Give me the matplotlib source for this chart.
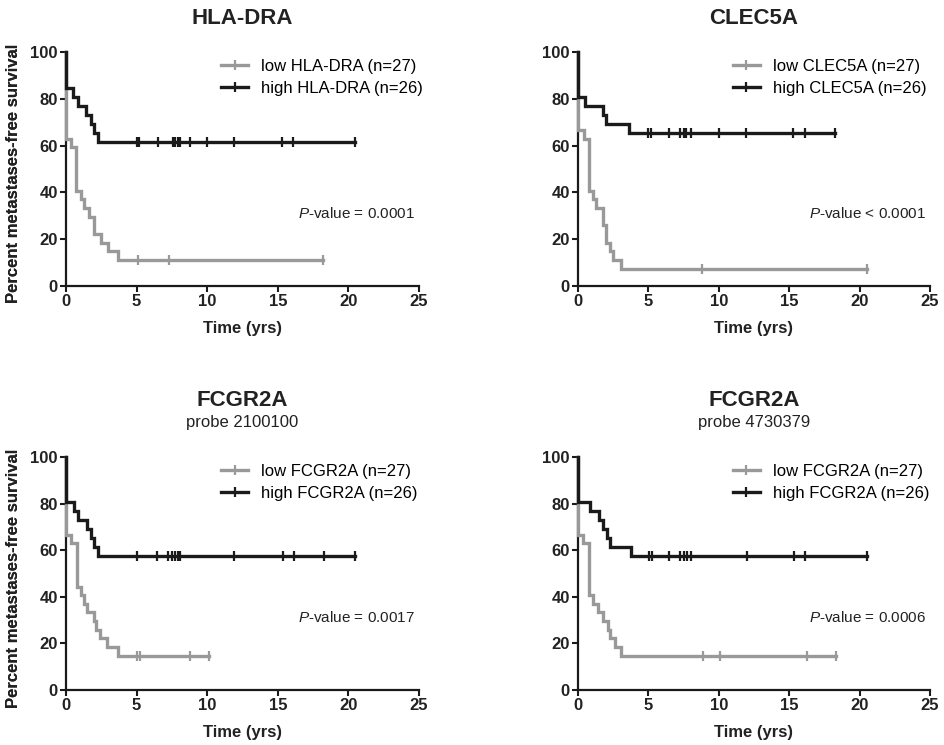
import numpy as np
import matplotlib.pyplot as plt
from matplotlib.lines import Line2D

plt.rcParams['font.family'] = ['Liberation Sans', 'DejaVu Sans']
plt.rcParams['mathtext.fontset'] = 'custom'
plt.rcParams['mathtext.rm'] = 'Liberation Sans'
plt.rcParams['mathtext.it'] = 'Liberation Sans:italic'

# --- HLA-DRA ---
hla_low_t = [0, 0.35, 0.7, 1.05, 1.25, 1.6, 2.0, 2.45, 3.0, 3.65]
hla_low_s = [63.0, 59.3, 40.7, 37.0, 33.3, 29.6, 22.2, 18.5, 14.8, 11.1]
hla_low_cens = [5.1, 7.3, 18.2]
hla_high_t = [0, 0.5, 0.85, 1.45, 1.75, 2.0, 2.25]
hla_high_s = [84.6, 80.8, 76.9, 73.1, 69.2, 65.4, 61.5]
hla_high_cens = [5.0, 5.2, 6.5, 7.6, 7.75, 7.9, 8.1, 8.8, 10.0, 11.9, 15.3, 16.1, 20.5]

# --- CLEC5A ---
clec_low_t = [0, 0.4, 0.78, 1.07, 1.3, 1.75, 2.0, 2.25, 2.5, 3.05]
clec_low_s = [66.7, 63.0, 40.7, 37.0, 33.3, 25.9, 18.5, 14.8, 11.1, 7.4]
clec_low_cens = [8.8, 20.5]
clec_high_t = [0, 0.5, 1.8, 2.0, 3.65]
clec_high_s = [80.8, 76.9, 73.1, 69.2, 65.4]
clec_high_cens = [5.0, 5.15, 6.45, 7.25, 7.5, 7.7, 8.0, 10.0, 11.9, 15.3, 16.1, 18.25]

# --- FCGR2A probe 2100100 ---
fc1_low_t = [0, 0.38, 0.77, 1.05, 1.27, 1.5, 2.0, 2.1, 2.4, 2.9, 3.65]
fc1_low_s = [66.7, 63.0, 44.4, 40.7, 37.0, 33.3, 29.6, 25.9, 22.2, 18.5, 14.8]
fc1_low_cens = [5.05, 5.25, 8.8, 10.1]
fc1_high_t = [0, 0.55, 0.87, 1.46, 1.77, 2.0, 2.3]
fc1_high_s = [80.8, 76.9, 73.1, 69.2, 65.4, 61.5, 57.7]
fc1_high_cens = [5.05, 6.47, 7.25, 7.5, 7.7, 7.9, 8.1, 11.9, 15.35, 16.15, 18.3, 20.5]

# --- FCGR2A probe 4730379 ---
fc2_low_t = [0, 0.35, 0.8, 1.05, 1.4, 1.75, 2.1, 2.3, 2.6, 3.05]
fc2_low_s = [66.7, 63.0, 40.7, 37.0, 33.3, 29.6, 25.9, 22.2, 18.5, 14.8]
fc2_low_cens = [8.85, 10.05, 16.25, 18.35]
fc2_high_t = [0, 0.85, 1.5, 1.8, 2.05, 2.3, 3.75]
fc2_high_s = [80.8, 76.9, 73.1, 69.2, 65.4, 61.5, 57.7]
fc2_high_cens = [5.05, 5.25, 6.45, 7.25, 7.5, 7.75, 8.05, 12.0, 15.35, 16.15, 20.55]

titles = ['HLA-DRA', 'CLEC5A', 'FCGR2A', 'FCGR2A']
subtitles = [None, None, 'probe 2100100', 'probe 4730379']
genes = ['HLA-DRA', 'CLEC5A', 'FCGR2A', 'FCGR2A']
n_low = 27
n_high = 26
pvalues = ['= 0.0001', '< 0.0001', '= 0.0017', '= 0.0006']

curves = [
    (hla_low_t, hla_low_s, hla_low_cens, hla_high_t, hla_high_s, hla_high_cens),
    (clec_low_t, clec_low_s, clec_low_cens, clec_high_t, clec_high_s, clec_high_cens),
    (fc1_low_t, fc1_low_s, fc1_low_cens, fc1_high_t, fc1_high_s, fc1_high_cens),
    (fc2_low_t, fc2_low_s, fc2_low_cens, fc2_high_t, fc2_high_s, fc2_high_cens),
]

GRAY = '#999999'
BLACK = '#1a1a1a'
W, H = 944, 745

# axes boxes in pixels: left, top, right, bottom
boxes = [(66, 52, 419, 286), (578, 52, 930, 286),
         (66, 457, 419, 690), (578, 457, 930, 690)]
title_y = [19, 19, 401, 401]
sub_y = [None, None, 422, 422]


def draw_km(ax, t, s, cens, color, z):
    end = max(t[-1], cens[-1])
    x = [0] + list(t) + [end]
    y = [100] + list(s) + [s[-1]]
    ax.step(x, y, where='post', color=color, lw=2.4, clip_on=False, zorder=z,
            solid_joinstyle='miter')
    idx = np.searchsorted(t, cens, side='right') - 1
    ax.plot(cens, np.array(s)[idx], ls='none', marker='|', ms=7.5, mew=1.6,
            color=color, clip_on=False, zorder=z)


fig = plt.figure(figsize=(W / 100, H / 100), dpi=100)

for i in range(4):
    l, t_, r, b = boxes[i]
    ax = fig.add_axes([l / W, 1 - b / H, (r - l) / W, (b - t_) / H])
    lt, ls_, lc, ht, hs, hc = curves[i]
    draw_km(ax, lt, ls_, lc, GRAY, 3)
    draw_km(ax, ht, hs, hc, BLACK, 4)

    ax.set_xlim(0, 25)
    ax.set_ylim(0, 100)
    ax.set_xticks([0, 5, 10, 15, 20, 25])
    ax.set_yticks([0, 20, 40, 60, 80, 100])
    for sp in ['top', 'right']:
        ax.spines[sp].set_visible(False)
    for sp in ['left', 'bottom']:
        ax.spines[sp].set_linewidth(1.6)
        ax.spines[sp].set_color(BLACK)
    ax.tick_params(direction='out', length=4, width=1.5, labelsize=12,
                   color=BLACK, labelcolor='#222222', pad=2)
    for lab in ax.get_xticklabels() + ax.get_yticklabels():
        lab.set_fontweight('bold')

    ax.set_xlabel('Time (yrs)', fontsize=12, fontweight='bold', color='#222222')
    ax.xaxis.set_label_coords(0.5, -35 / (b - t_))
    ax.set_ylabel('Percent metastases-free survival', fontsize=12,
                  fontweight='bold', color='#222222')
    ax.yaxis.set_label_coords((21 - l) / (r - l), 0.48)

    handles = [Line2D([], [], color=GRAY, lw=2.4, marker='|', ms=7.5, mew=1.6),
               Line2D([], [], color=BLACK, lw=2.4, marker='|', ms=7.5, mew=1.6)]
    labels = ['low %s (n=%d)' % (genes[i], n_low),
              'high %s (n=%d)' % (genes[i], n_high)]
    ax.legend(handles, labels, loc='upper left', bbox_to_anchor=(0.44, 0.97),
              frameon=False, fontsize=12, handlelength=1.6, handletextpad=0.8,
              labelspacing=0.42, borderpad=0, borderaxespad=0)

    ax.text(24.7, 31, r'$\it{P}$-value ' + pvalues[i], ha='right', va='center',
            fontsize=11, color='#222222')

    cx = (l + r) / 2 / W
    fig.text(cx, 1 - title_y[i] / H, titles[i], ha='center', va='center',
             fontsize=16, fontweight='bold', color='#222222')
    if subtitles[i]:
        fig.text(cx, 1 - sub_y[i] / H, subtitles[i], ha='center', va='center',
                 fontsize=12, color='#222222')

fig.savefig('out.png', dpi=100)
